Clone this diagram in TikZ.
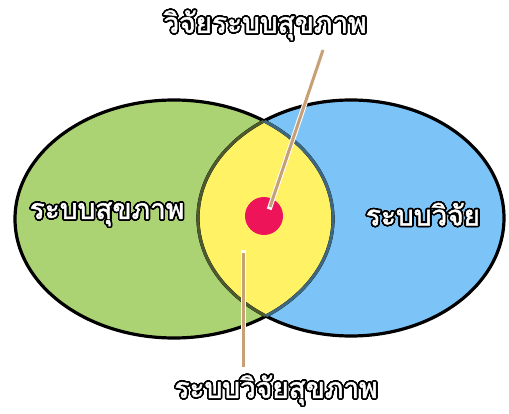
\documentclass[tikz,border=0pt]{standalone}
\usepackage{fontspec}
\newfontfamily\thaifont[Script=Thai, AutoFakeBold=1.6]{Loma}
\usepackage{contour}
\contourlength{1.6pt}
\contournumber{32}
\definecolor{leftgreen}{RGB}{172,211,115}
\definecolor{rightblue}{RGB}{124,196,248}
\definecolor{lensyellow}{RGB}{255,242,100}
\definecolor{dotred}{RGB}{237,20,90}
\definecolor{leadertan}{RGB}{200,160,120}
\definecolor{olivearc}{RGB}{76,90,46}
\definecolor{slatearc}{RGB}{62,104,128}
\begin{document}
\begin{tikzpicture}[x=1pt, y=-1pt,
  lbl/.style={font=\thaifont\bfseries\fontsize{28}{28}\selectfont, text=white, inner sep=0pt},
  leader/.style={draw=leadertan, line width=3pt, preaction={draw=white, line width=5pt, line cap=rect}}]
\useasboundingbox (0,0) rectangle (509,414);
\fill[leftgreen] (174,219) ellipse [x radius=159pt, y radius=119pt];
\fill[rightblue] (351,218) ellipse [x radius=153pt, y radius=118pt];
\begin{scope}
\clip (174,219) ellipse [x radius=159pt, y radius=119pt];
\fill[lensyellow] (351,218) ellipse [x radius=153pt, y radius=118pt];
\end{scope}
\draw[line width=3.2pt] (174,219) ellipse [x radius=159pt, y radius=119pt];
\draw[line width=3.2pt] (351,218) ellipse [x radius=153pt, y radius=118pt];
\begin{scope}
\clip (174,219) ellipse [x radius=159pt, y radius=119pt];
\draw[olivearc, line width=3pt] (351,218) ellipse [x radius=153pt, y radius=118pt];
\end{scope}
\begin{scope}
\clip (351,218) ellipse [x radius=153pt, y radius=118pt];
\draw[slatearc, line width=3pt] (174,219) ellipse [x radius=159pt, y radius=119pt];
\end{scope}
\node[circle, fill=dotred, minimum size=38pt, inner sep=0pt] (dot) at (264,216) {};
\node[lbl] (leftlbl) at (107,215) {\contour{black}{ระบบสุขภาพ}};
\node[lbl] (rightlbl) at (423,215) {\contour{black}{ระบบวิจัย}};
\node[lbl] (toplbl) at (265,26) {\contour{black}{วิจัยระบบสุขภาพ}};
\node[lbl] (botlbl) at (276,391) {\contour{black}{ระบบวิจัยสุขภาพ}};
\coordinate (dottip) at (270,207);
\coordinate (toptip) at (323,50);
\coordinate (bottip) at (243,253);
\coordinate (botend) at (243,367);
\draw[leader] (dottip) -- (toptip);
\draw[leader] (bottip) -- (botend);
\end{tikzpicture}
\end{document}
